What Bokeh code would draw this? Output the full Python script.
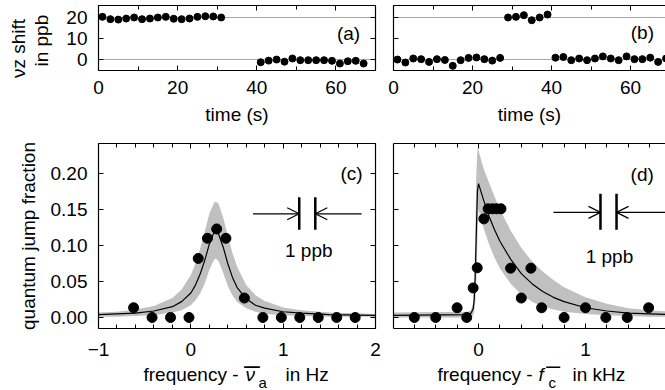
import math
from bokeh.plotting import figure
from bokeh.layouts import column, row
from bokeh.models import (Range1d, LinearAxis, SingleIntervalTicker, FixedTicker,
                          Label, Arrow, OpenHead, NumeralTickFormatter)
from bokeh.embed import file_html
from bokeh.resources import INLINE

FONT = "Liberation Sans"
FS = "19px"
NB = "\u00a0"

# ---------------- data: panel (a) ----------------
a_time = [1, 3, 5, 7, 9, 11, 13, 15, 17, 19, 21, 23, 25, 27, 29, 31,
          41, 43, 45, 47, 49, 51, 53, 55, 57, 59, 61, 63, 65, 67]
a_shift = [20.3, 19.2, 19.0, 19.5, 20.0, 19.2, 19.5, 20.0, 20.3, 19.4, 19.2, 19.5, 20.3, 20.6, 20.5, 20.0,
           -1.3, -0.5, 0.0, -1.0, 0.5, -0.3, -0.3, -0.3, -0.3, -0.6, -1.9, -0.8, -0.6, -1.9]

# ---------------- data: panel (b) ----------------
b_time = [1, 3, 5, 7, 9, 11, 13, 15, 17, 19, 21, 23, 25, 27,
          29, 31, 33, 35, 37, 39,
          41, 43, 45, 47, 49, 51, 53, 55, 57, 59, 61, 63, 65, 67, 69]
b_shift = [0.0, -1.4, 0.5, 0.2, -1.1, 0.2, -0.2, -3.0, -0.3, 0.8, 1.0, 0.2, -0.5, 0.8,
           20.0, 20.3, 21.1, 18.7, 20.0, 21.4,
           0.9, 1.2, -0.3, 0.5, -0.3, 0.5, 1.5, 0.5, -0.3, 1.5, 0.2, 0.2, 0.9, -1.1, 0.5]
ref_lines = [0, 20]

# ---------------- data: panel (c) ----------------
c_freq = [-0.62, -0.42, -0.22, -0.02, 0.08, 0.18, 0.28, 0.38, 0.58, 0.78, 0.98, 1.18, 1.38, 1.58, 1.78]
c_frac = [0.0135, 0.0, 0.0, 0.0, 0.082, 0.110, 0.123, 0.110, 0.027, 0.0, 0.0, 0.0, 0.0, 0.0, 0.0]
c_curve_x = [-1.0, -0.8, -0.6, -0.4, -0.2, -0.1, 0.0, 0.05, 0.1, 0.15, 0.2, 0.25, 0.27,
             0.3, 0.35, 0.4, 0.45, 0.5, 0.6, 0.7, 0.8, 1.0, 1.2, 1.5, 2.0]
c_fit = [0.004, 0.005, 0.006, 0.009, 0.015, 0.022, 0.034, 0.045, 0.060, 0.079, 0.102, 0.118, 0.120,
         0.116, 0.098, 0.075, 0.056, 0.042, 0.026, 0.017, 0.013, 0.008, 0.006, 0.004, 0.003]
c_upper = [0.007, 0.008, 0.011, 0.016, 0.027, 0.039, 0.059, 0.075, 0.095, 0.119, 0.144, 0.159, 0.161,
           0.158, 0.139, 0.114, 0.090, 0.071, 0.045, 0.031, 0.023, 0.014, 0.010, 0.007, 0.005]
c_lower = [0.001, 0.001, 0.002, 0.003, 0.007, 0.010, 0.017, 0.024, 0.033, 0.047, 0.066, 0.080, 0.082,
           0.078, 0.062, 0.044, 0.031, 0.022, 0.013, 0.008, 0.005, 0.003, 0.002, 0.001, 0.001]

# ---------------- data: panel (d) ----------------
d_freq = [-0.6, -0.4, -0.2, -0.11, -0.05, -0.012, 0.05, 0.09, 0.13, 0.17, 0.21, 0.30, 0.40, 0.49,
          0.59, 0.80, 1.00, 1.19, 1.39, 1.59]
d_frac = [0.0, 0.0, 0.0135, 0.0, 0.041, 0.069, 0.137, 0.151, 0.151, 0.151, 0.151, 0.0685, 0.027, 0.0685,
          0.0135, 0.0, 0.0135, 0.0, 0.0, 0.0135]
d_curve_x = [-0.8, -0.1, -0.07, -0.05, -0.04, -0.03, -0.02, -0.01, 0.0, 0.05, 0.1, 0.15, 0.2,
             0.3, 0.4, 0.5, 0.6, 0.7, 0.8, 1.0, 1.2, 1.4, 1.6, 1.8]
d_fit = [0.003, 0.004, 0.006, 0.012, 0.025, 0.060, 0.120, 0.175, 0.186, 0.162, 0.140, 0.122, 0.106,
         0.081, 0.061, 0.047, 0.036, 0.028, 0.022, 0.0135, 0.009, 0.006, 0.005, 0.004]
d_upper = [0.007, 0.008, 0.010, 0.020, 0.050, 0.110, 0.200, 0.235, 0.232, 0.206, 0.187, 0.168, 0.150,
           0.121, 0.097, 0.078, 0.064, 0.052, 0.042, 0.028, 0.019, 0.013, 0.010, 0.008]
d_lower = [0.0, 0.0, 0.001, 0.003, 0.008, 0.020, 0.050, 0.110, 0.150, 0.123, 0.101, 0.083, 0.068,
           0.047, 0.032, 0.022, 0.015, 0.011, 0.008, 0.005, 0.003, 0.002, 0.001, 0.001]

# "1 ppb" markers
c_ppb_bars = [1.174, 1.348]
c_ppb_y = 0.144
c_ppb_span = [0.122, 0.167]
c_arrow_from = [0.674, 1.85]
d_ppb_bars = [1.140, 1.290]
d_ppb_y = 0.146
d_ppb_span = [0.122, 0.172]
d_arrow_from = [0.70, 1.85]

# composite x-label pieces: text, x px, vertical centre y px (page), size, style
xlab_pieces = [("frequency -", 143, 374.4, "19px", "normal"),
               ("\u03bd", 245, 374.4, "19px", "italic"),
               ("_", 244, 352.0, "27px", "normal"),
               ("a", 258, 381.8, "15px", "normal"),
               ("in Hz", 285, 374.4, "19px", "normal"),
               ("frequency -", 437, 374.4, "19px", "normal"),
               ("f", 538, 374.4, "19px", "italic"),
               ("_", 546, 353.6, "24px", "normal"),
               ("c", 548, 381.8, "15px", "normal"),
               ("in kHz", 572, 374.4, "19px", "normal")]

BAND = "#c0c0c0"
A_Y = (-5.2, 25.7)
C_Y = (-0.0153, 0.2417)


def style_axis(ax, labels=True, standoff=11):
    ax.major_tick_in = 5
    ax.major_tick_out = 0
    ax.minor_tick_in = 4
    ax.minor_tick_out = 0
    ax.axis_line_color = "black"
    ax.major_tick_line_color = "black"
    ax.minor_tick_line_color = "black"
    ax.axis_line_width = 1.2
    ax.major_label_text_font = FONT
    if labels:
        ax.major_label_text_color = "black"
        ax.major_label_text_font_size = FS
        ax.major_label_standoff = standoff
    else:
        ax.major_label_text_color = None
        ax.major_label_text_font_size = "1px"
        ax.major_label_standoff = 0
    ax.axis_label_text_font = FONT
    ax.axis_label_text_font_style = "normal"
    ax.axis_label_text_font_size = FS
    ax.axis_label_text_color = "black"


def make_fig(width, height, xr, yr, xtick, ytick, left, right, top, bottom, ylabels, right_axis,
             xstand):
    p = figure(width=width, height=height, x_range=Range1d(*xr), y_range=Range1d(*yr),
               output_backend="svg", toolbar_location=None, title_location=None,
               min_border_left=left, min_border_right=right,
               min_border_top=top, min_border_bottom=bottom)
    p.outline_line_color = None
    p.xgrid.visible = False
    p.ygrid.visible = False
    xb = p.below[0]
    yl = p.left[0]
    xb.ticker = xtick
    yl.ticker = ytick
    style_axis(xb, True, xstand)
    style_axis(yl, ylabels, 11)
    top_ax = LinearAxis(ticker=xtick)
    style_axis(top_ax, False)
    p.add_layout(top_ax, "above")
    if right_axis:
        r_ax = LinearAxis(ticker=ytick)
        style_axis(r_ax, False)
        p.add_layout(r_ax, "right")
    return p, xb, yl


def lab(p, x, y, text, align="center", baseline="middle", size=FS, style="normal"):
    p.add_layout(Label(x=x, y=y, text=text, text_font=FONT, text_font_size=size,
                       text_align=align, text_baseline=baseline, text_color="black",
                       text_font_style=style))


# ---------------- top row ----------------
top_ytick = SingleIntervalTicker(interval=10, num_minor_ticks=0)
pa, pa_x, pa_y = make_fig(384, 135, (0, 70), A_Y,
                          SingleIntervalTicker(interval=20, num_minor_ticks=2), top_ytick,
                          98, 9, 5, 65, True, True, 10)
pb, pb_x, pb_y = make_fig(281, 135, (0, 272 / 3.95), A_Y,
                          SingleIntervalTicker(interval=20, num_minor_ticks=2), top_ytick,
                          9, 0, 5, 65, False, False, 10)

for p, xb, t, s in ((pa, pa_x, a_time, a_shift), (pb, pb_x, b_time, b_shift)):
    p.ygrid.visible = True
    p.ygrid.ticker = FixedTicker(ticks=ref_lines)
    p.ygrid.grid_line_color = "#aaaaaa"
    p.ygrid.grid_line_width = 1
    xb.axis_label = "time (s)"
    xb.axis_label_standoff = 7
    p.scatter(t, s, size=7, color="black")

lab(pa, 63.2, 12.4, "(a)")
lab(pb, 63.0, 13.0, "(b)")

# two-line rotated y label of panel (a): inner line on the tick axis, outer line on a bare axis
pa_y.axis_label = NB * 3 + "in ppb" + NB * 4
pa_y.axis_label_standoff = 11
outer = LinearAxis(ticker=top_ytick)
style_axis(outer, False)
outer.axis_line_color = None
outer.major_tick_line_color = None
outer.minor_tick_line_color = None
outer.axis_label = NB * 1 + "\u03bdz shift" + NB * 5
outer.axis_label_standoff = 0
for ax in (pa_y, outer):
    if "axis_label_orientation" in ax.properties():
        ax.axis_label_orientation = "vertical"
pa.add_layout(outer, "left")

# ---------------- bottom row ----------------
bot_ytick = SingleIntervalTicker(interval=0.05, num_minor_ticks=0)
pc, pc_x, pc_y = make_fig(384, 230, (-1.0, 2.0), C_Y,
                          SingleIntervalTicker(interval=1, num_minor_ticks=5), bot_ytick,
                          98, 9, 8, 37, True, True, 14)
pd, pd_x, pd_y = make_fig(281, 230, (-85 / 107, 187 / 107), C_Y,
                          SingleIntervalTicker(interval=1, num_minor_ticks=5), bot_ytick,
                          9, 0, 8, 37, False, False, 14)
pc_y.axis_label = "quantum jump fraction"
pc_y.axis_label_standoff = 9
pc_y.formatter = NumeralTickFormatter(format="0.00")

pc.varea(x=c_curve_x, y1=c_lower, y2=c_upper, fill_color=BAND)
pc.line(c_curve_x, c_fit, color="black", line_width=1.2)
pc.scatter(c_freq, c_frac, size=10, color="black")

pd.varea(x=d_curve_x, y1=d_lower, y2=d_upper, fill_color=BAND)
pd.line(d_curve_x, d_fit, color="black", line_width=1.2)
pd.scatter(d_freq, d_frac, size=10, color="black")

for p, bars, yy, span, src, lx, ly in ((pc, c_ppb_bars, c_ppb_y, c_ppb_span, c_arrow_from, 1.277, 0.093),
                                       (pd, d_ppb_bars, d_ppb_y, d_ppb_span, d_arrow_from, 1.224, 0.0847)):
    p.segment(x0=bars, y0=[span[0]] * 2, x1=bars, y1=[span[1]] * 2, color="black", line_width=2.5)
    p.add_layout(Arrow(end=OpenHead(size=12, line_width=1.2), x_start=src[0], y_start=yy,
                       x_end=bars[0], y_end=yy, line_width=1.2))
    p.add_layout(Arrow(end=OpenHead(size=12, line_width=1.2), x_start=src[1], y_start=yy,
                       x_end=bars[1], y_end=yy, line_width=1.2))
    lab(p, lx, ly, "1 ppb")

lab(pc, 1.74, 0.2, "(c)")
lab(pd, 1.53, 0.199, "(d)")

# composite x labels of the bottom row, on their own canvas (page y 365..390)
px_lab = figure(width=665, height=25, x_range=Range1d(0, 665), y_range=Range1d(390, 365),
                title_location=None, output_backend="svg", toolbar_location=None,
                x_axis_location=None, y_axis_location=None, min_border=0)
px_lab.outline_line_color = None
px_lab.background_fill_color = None
px_lab.border_fill_color = None
px_lab.xgrid.visible = False
px_lab.ygrid.visible = False
for txt, x, y, size, style in xlab_pieces:
    lab(px_lab, x, y, txt, align="left", baseline="middle", size=size, style=style)

layout = column(row(pa, pb, spacing=0), row(pc, pd, spacing=0), px_lab, spacing=0)

open("out.html", "w").write(file_html(layout, INLINE))
